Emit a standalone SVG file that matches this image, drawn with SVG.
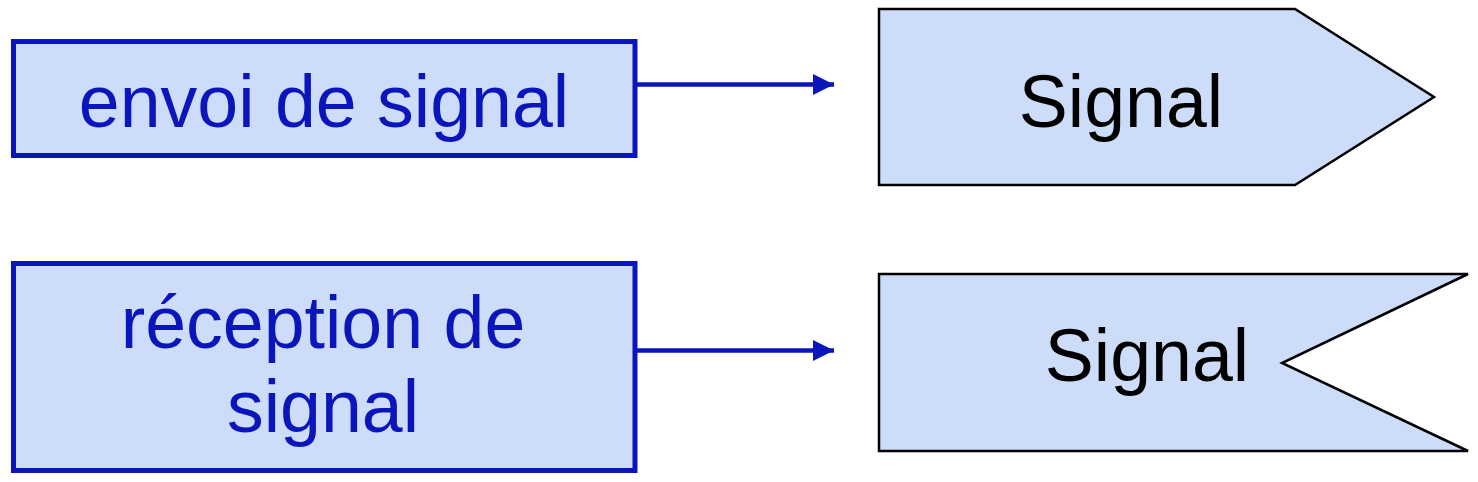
<svg xmlns="http://www.w3.org/2000/svg" width="1478" height="482" viewBox="0 0 1478 482">
<style>
.box{fill:#cddcf9;stroke:#0a16bb;stroke-width:5}
.sig{fill:#cddcf9;stroke:#000;stroke-width:2.5;stroke-linejoin:miter}
.bt{font-family:"Liberation Sans",Arial,sans-serif;font-size:73.5px;fill:#0a16bb;text-anchor:middle}
.st{font-family:"Liberation Sans",Arial,sans-serif;font-size:73.5px;fill:#000;text-anchor:middle}
.conn{stroke:#0a16bb;stroke-width:4.5;fill:none}
</style>
<defs>
<marker id="ah" markerUnits="userSpaceOnUse" markerWidth="24" markerHeight="24" refX="21" refY="11" orient="auto">
<path d="M0,0.5 L21,11 L0,21.5 Z" fill="#0a16bb"/>
</marker>
</defs>
<rect width="1478" height="482" fill="#fff"/>
<g id="envoi">
<rect class="box" x="13.5" y="41.5" width="621.5" height="114"/>
<text class="bt" x="324" y="127">envoi de signal</text>
</g>
<g id="reception">
<rect class="box" x="13.5" y="263.5" width="621.5" height="207"/>
<text class="bt" x="323" y="348">réception de</text>
<text class="bt" x="323" y="432">signal</text>
</g>
<g id="signal-send">
<polygon class="sig" points="879,9 1295,9 1434,97 1295,185 879,185"/>
<text class="st" x="1121" y="127">Signal</text>
</g>
<g id="signal-receive">
<polygon class="sig" points="879,274 1468,274 1282,363 1468,451 879,451"/>
<text class="st" x="1147" y="381">Signal</text>
</g>
<g id="connectors">
<line class="conn" x1="637" y1="84.5" x2="834" y2="84.5" marker-end="url(#ah)"/>
<line class="conn" x1="637" y1="350.5" x2="834" y2="350.5" marker-end="url(#ah)"/>
</g>
</svg>
